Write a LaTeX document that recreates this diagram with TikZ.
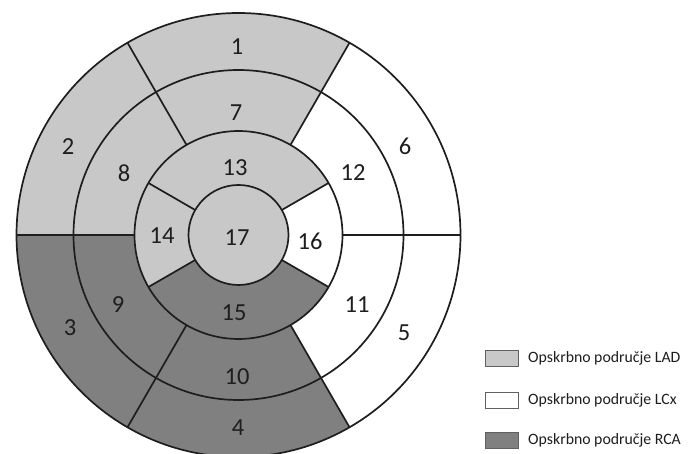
\documentclass[tikz,border=0pt]{standalone}
\usepackage{fontspec}
\setmainfont{Carlito}
\definecolor{lad}{RGB}{200,200,200}
\definecolor{rca}{RGB}{128,128,128}
\definecolor{ink}{RGB}{30,30,30}
\newcommand\ringseg[5]{\fill[#1] (#4:#3pt) arc[start angle=#4,end angle=#5,radius=#3pt] -- (#5:#2pt) arc[start angle=#5,end angle=#4,radius=#2pt] -- cycle;}
\tikzset{
  segline/.style={draw=ink, line width=1.7pt},
  seglabel/.style={text=ink, font=\fontsize{24.5}{28}\selectfont, inner sep=0pt},
  legbox/.style={draw=ink!70, line width=0.9pt, minimum width=33pt, minimum height=16pt, inner sep=0pt},
  legtext/.style={text=ink, font=\fontsize{15.8}{19}\selectfont, anchor=west, inner sep=0pt}
}
\begin{document}
\begin{tikzpicture}[x=1pt,y=-1pt]
\useasboundingbox (0,0) rectangle (689,454);
\fill[white] (0,0) rectangle (689,454);
\begin{scope}[shift={(238.5,235)}]
  % outer ring
  \ringseg{lad}{165}{222}{60}{120}
  \ringseg{lad}{165}{222}{120}{180}
  \ringseg{rca}{165}{222}{180}{240}
  \ringseg{rca}{165}{222}{240}{300}
  \ringseg{white}{165}{222}{300}{360}
  \ringseg{white}{165}{222}{0}{60}
  % second ring
  \ringseg{lad}{104}{165}{60}{120}
  \ringseg{lad}{104}{165}{120}{180}
  \ringseg{rca}{104}{165}{180}{240}
  \ringseg{rca}{104}{165}{240}{300}
  \ringseg{white}{104}{165}{300}{360}
  \ringseg{white}{104}{165}{0}{60}
  % third ring
  \ringseg{lad}{50}{104}{30}{150}
  \ringseg{lad}{50}{104}{150}{210}
  \ringseg{rca}{50}{104}{210}{330}
  \ringseg{white}{50}{104}{-30}{30}
  % centre
  \fill[lad] (0pt,0pt) circle[radius=50pt];
  % circles
  \draw[segline] (0pt,0pt) circle[radius=222pt];
  \draw[segline] (0pt,0pt) circle[radius=165pt];
  \draw[segline] (0pt,0pt) circle[radius=104pt];
  \draw[segline] (0pt,0pt) circle[radius=50pt];
  % boundaries
  \foreach \a in {0,60,120,180,240,300} \draw[segline] (\a:104pt) -- (\a:222pt);
  \foreach \a in {30,150,210,330} \draw[segline] (\a:50pt) -- (\a:104pt);
\end{scope}
% labels
\node[seglabel] (s1) at (237,47) {1};
\node[seglabel] (s2) at (68,147) {2};
\node[seglabel] (s3) at (70,328) {3};
\node[seglabel] (s4) at (238,428) {4};
\node[seglabel] (s5) at (404,333) {5};
\node[seglabel] (s6) at (405,146) {6};
\node[seglabel] (s7) at (236,113) {7};
\node[seglabel] (s8) at (124,173) {8};
\node[seglabel] (s9) at (118,305) {9};
\node[seglabel] (s10) at (237,377) {10};
\node[seglabel] (s11) at (357,305) {11};
\node[seglabel] (s12) at (353,173) {12};
\node[seglabel] (s13) at (235,168) {13};
\node[seglabel] (s14) at (162,236) {14};
\node[seglabel] (s15) at (234,313) {15};
\node[seglabel] (s16) at (310,241) {16};
\node[seglabel] (s17) at (237,238) {17};
% legend
\node[legbox, fill=lad] (k1) at (501.5,358) {};
\node[legbox, fill=white] (k2) at (501.5,400) {};
\node[legbox, fill=rca] (k3) at (501.5,440) {};
\node[legtext] (t1) at (528,358) {Opskrbno područje LAD};
\node[legtext] (t2) at (528,400) {Opskrbno područje LCx};
\node[legtext] (t3) at (528,440) {Opskrbno područje RCA};
\end{tikzpicture}
\end{document}
